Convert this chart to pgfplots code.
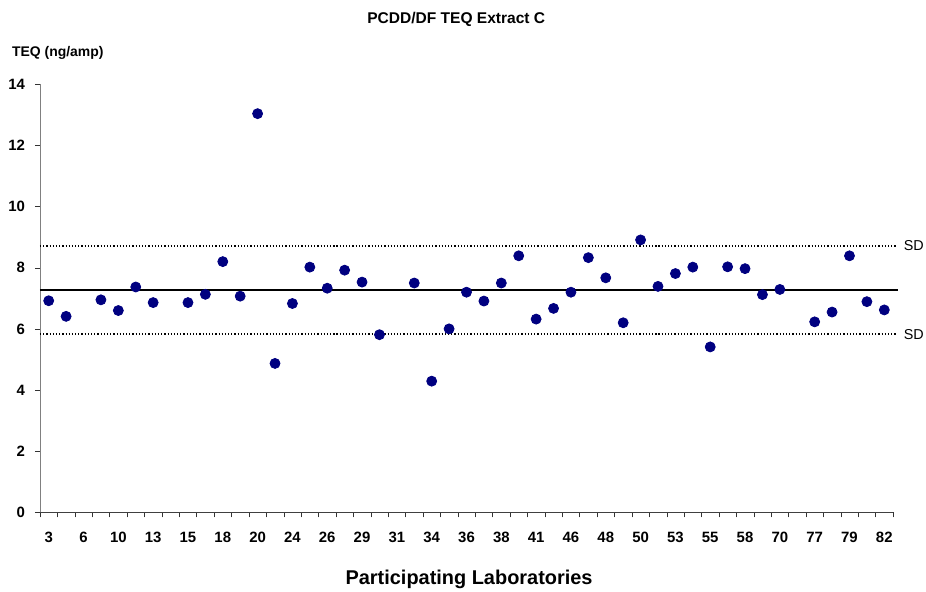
\documentclass[border=0pt]{standalone}
\usepackage{fontspec}
\setmainfont{Liberation Sans}
\usepackage{pgfplots}
\pgfplotsset{compat=1.18}
\definecolor{dotnavy}{HTML}{000080}

\begin{document}
\begin{tikzpicture}
\begin{axis}[name=ax, scale only axis, width=426.5bp, height=214bp,
  xmin=0.5, xmax=49.5, ymin=0, ymax=14, ytick={0,2,...,14},
  axis lines=left, axis line style={-},
  x axis line style={black!75}, y axis line style={black!50},
  clip=false, tick align=outside, major tick length=2.5bp,
  tick style={black!80},
  /pgf/number format/assume math mode=true,
  ticklabel style={font=\fontsize{7.5}{9}\selectfont\bfseries},
  xtick={0.5,1.5,...,49.5}, xticklabels={},
  extra x ticks={1,3,...,49},
  extra x tick labels={3,6,10,13,15,18,20,24,26,29,31,34,36,38,41,46,48,50,53,55,58,70,77,79,82},
  extra x tick style={major tick length=0pt},
  xticklabel style={yshift=-6.5bp},
  yticklabel style={xshift=-1.5bp},
]
% lab results, plotted at category positions (empty slots have no value)
\addplot[only marks, mark=*, mark size=2.5bp, color=dotnavy] coordinates {
(1,6.92) (2,6.41) (4,6.95) (5,6.60) (6,7.37) (7,6.86) (9,6.86) (10,7.13)
(11,8.20) (12,7.07) (13,13.04) (14,4.87) (15,6.83) (16,8.02) (17,7.33)
(18,7.92) (19,7.53) (20,5.81) (22,7.50) (23,4.29) (24,6.00) (25,7.20)
(26,6.91) (27,7.50) (28,8.39) (29,6.32) (30,6.67) (31,7.20) (32,8.33)
(33,7.67) (34,6.20) (35,8.91) (36,7.39) (37,7.81) (38,8.02) (39,5.41)
(40,8.03) (41,7.97) (42,7.12) (43,7.29) (45,6.23) (46,6.55) (47,8.39)
(48,6.89) (49,6.62)};
% mean and +/- SD
\addplot[black, line width=0.9pt] coordinates {(0.5,7.27) (49.8,7.27)};
\addplot[black, densely dotted, line width=0.6pt] coordinates {(0.5,8.71) (49.7,8.71)};
\addplot[black, densely dotted, line width=0.6pt] coordinates {(0.5,5.83) (49.7,5.83)};
\node[anchor=west, inner sep=0pt, font=\fontsize{7.2}{9}\selectfont] at (axis cs:50.1,8.71) {SD};
\node[anchor=west, inner sep=0pt, font=\fontsize{7.2}{9}\selectfont] at (axis cs:50.1,5.83) {SD};
\node[anchor=base, inner sep=0pt, font=\fontsize{7.8}{9}\selectfont\bfseries, yshift=30.15bp]
  at (rel axis cs:0.488,1) {PCDD/DF TEQ Extract C};
\node[anchor=base west, inner sep=0pt, font=\fontsize{7}{9}\selectfont\bfseries, xshift=-14.15bp, yshift=13.8bp]
  at (rel axis cs:0,1) {TEQ (ng/amp)};
\node[anchor=base, inner sep=0pt, font=\fontsize{10}{12}\selectfont\bfseries, yshift=-35.85bp]
  at (rel axis cs:0.503,0) {Participating Laboratories};
\end{axis}
\path ([shift={(-20bp,-39.35bp)}]ax.south west) rectangle ([shift={(16.5bp,42.15bp)}]ax.north east);
\end{tikzpicture}
\end{document}
